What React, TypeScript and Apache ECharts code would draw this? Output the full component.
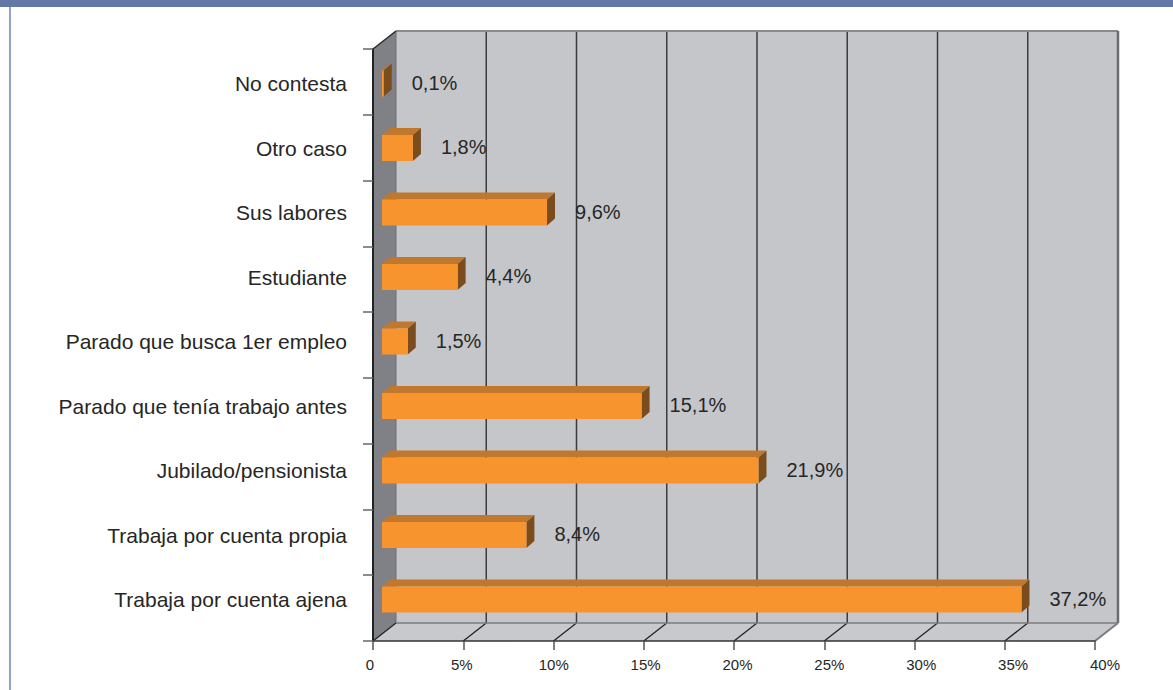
import React, { useEffect, useRef } from "react";
import * as echarts from "echarts";

// Categories bottom-to-top (ECharts category y axis starts at the bottom)
const categories = [
  "Trabaja por cuenta ajena",
  "Trabaja por cuenta propia",
  "Jubilado/pensionista",
  "Parado que tenía trabajo antes",
  "Parado que busca 1er empleo",
  "Estudiante",
  "Sus labores",
  "Otro caso",
  "No contesta",
];
const values = [37.2, 8.4, 21.9, 15.1, 1.5, 4.4, 9.6, 1.8, 0.1];
const xTicks = [0, 5, 10, 15, 20, 25, 30, 35, 40];
const axisMin = 0;
const axisMax = 40;
const axisStep = 5;
const barAxisMax = 42; // depth-perspective scale of the bars inside the 3D box

const FONT = "'Liberation Sans', Arial, Helvetica, sans-serif";
const TEXT = "#262626";
const fmtValue = (v: number) => v.toFixed(1).replace(".", ",") + "%";
const fmtTick = (v: number) => (v === 0 ? "0" : v + "%");

export default function App() {
  const ref = useRef<HTMLDivElement>(null);
  useEffect(() => {
    if (!ref.current) return;
    const chart = echarts.init(ref.current, undefined, { renderer: "svg" });
    const DX = 23;
    const DY = 18;

    const frameRender = (params: any, api: any) => {
      const cs = params.coordSys;
      const x0 = cs.x, y0 = cs.y, x1 = cs.x + cs.width, y1 = cs.y + cs.height;
      const children: any[] = [];
      children.push({
        type: "polygon",
        shape: { points: [[x0 + DX, y0 - DY], [x1 + DX, y0 - DY], [x1 + DX, y1 - DY], [x0 + DX, y1 - DY]] },
        style: { fill: "#c5c6ca" },
      });
      children.push({
        type: "polygon",
        shape: { points: [[x0, y1], [x0 + DX, y1 - DY], [x1 + DX, y1 - DY], [x1, y1]] },
        style: { fill: "#c8c9cc" },
      });
      children.push({
        type: "polygon",
        shape: { points: [[x0, y0], [x0 + DX, y0 - DY], [x0 + DX, y1 - DY], [x0, y1]] },
        style: { fill: "#808186" },
      });
      xTicks.forEach((t) => {
        const fx = api.coord([t, 0])[0];
        if (t !== axisMin && t !== axisMax) {
          children.push({
            type: "line",
            shape: { x1: fx + DX, y1: y0 - DY, x2: fx + DX, y2: y1 - DY },
            style: { stroke: "#3c3c3e", lineWidth: 1.5 },
          });
        }
        if (t !== axisMax) {
          children.push({
            type: "line",
            shape: { x1: fx, y1: y1, x2: fx + DX, y2: y1 - DY },
            style: { stroke: "#1e1e1e", lineWidth: 1.2 },
          });
        }
      });
      children.push({
        type: "line",
        shape: { x1: x0 + DX, y1: y0 - DY, x2: x1 + DX, y2: y0 - DY },
        style: { stroke: "#8a8b8e", lineWidth: 2 },
      });
      children.push({
        type: "line",
        shape: { x1: x1 + DX, y1: y0 - DY, x2: x1 + DX, y2: y1 - DY },
        style: { stroke: "#6a6b6e", lineWidth: 2.5 },
      });
      children.push({
        type: "line",
        shape: { x1: x0 + DX, y1: y0 - DY, x2: x0 + DX, y2: y1 - DY },
        style: { stroke: "#6e6f72", lineWidth: 1 },
      });
      children.push({
        type: "line",
        shape: { x1: x0 + DX, y1: y1 - DY, x2: x1 + DX, y2: y1 - DY },
        style: { stroke: "#7a7b7e", lineWidth: 1.5 },
      });
      children.push({
        type: "line",
        shape: { x1: x1, y1: y1, x2: x1 + DX, y2: y1 - DY },
        style: { stroke: "#7a7b7e", lineWidth: 2 },
      });
      children.push({
        type: "line",
        shape: { x1: x0, y1: y0, x2: x0 + DX, y2: y0 - DY },
        style: { stroke: "#2a2a2a", lineWidth: 1.5 },
      });
      return { type: "group", children };
    };

    const barRender = (params: any, api: any) => {
      const v = api.value(0);
      const i = api.value(1);
      const p0 = api.coord([0, i]);
      const p1 = api.coord([v, i]);
      const OX = 9, H = 26, BX = 8, BY = 7;
      const xs = p0[0] + OX;
      const xe = p1[0] + OX;
      const yc = p0[1];
      const yt = yc - H / 2;
      const yb = yc + H / 2;
      return {
        type: "group",
        children: [
          {
            type: "polygon",
            shape: { points: [[xs, yt], [xe, yt], [xe + BX, yt - BY], [xs + BX, yt - BY]] },
            style: { fill: "#c0782f" },
          },
          {
            type: "polygon",
            shape: { points: [[xe, yt], [xe + BX, yt - BY], [xe + BX, yb - BY], [xe, yb]] },
            style: { fill: "#7b4d1d" },
          },
          {
            type: "rect",
            shape: { x: xs, y: yt, width: Math.max(xe - xs, 0.5), height: H },
            style: { fill: "#f7942d" },
          },
          {
            type: "text",
            x: xe + 28,
            y: yc - 1,
            style: {
              text: fmtValue(v),
              fontSize: 20,
              fontFamily: FONT,
              fill: TEXT,
              align: "left",
              verticalAlign: "middle",
            },
          },
        ],
      };
    };

    chart.setOption({
      animation: false,
      backgroundColor: "#ffffff",
      graphic: [
        { type: "rect", shape: { x: 0, y: 0, width: 1173, height: 7 }, style: { fill: "#6478a8" } },
        { type: "rect", shape: { x: 9, y: 7, width: 2, height: 683 }, style: { fill: "#93a2cc" } },
      ],
      grid: [
        // 0: the 3D box front plane (axes, ticks, walls)
        { left: 373, top: 49, width: 722, height: 592, containLabel: false },
        // 1: the bars and category labels, set at mid-depth of the box
        { left: 373, top: 51.25, width: 722, height: 580.5, containLabel: false },
        // 2: the value tick labels as Excel lays them out under the slanted floor
        { left: 370, top: 49, width: 735, height: 592, containLabel: false },
      ],
      xAxis: [
        {
          type: "value",
          gridIndex: 0,
          min: axisMin,
          max: axisMax,
          interval: axisStep,
          axisLine: { show: true, lineStyle: { color: "#333333", width: 1.5 } },
          axisTick: { show: true, length: 9, lineStyle: { color: "#555555", width: 1.5 } },
          axisLabel: { show: false },
          splitLine: { show: false },
        },
        {
          type: "value",
          gridIndex: 1,
          min: axisMin,
          max: barAxisMax,
          show: false,
          splitLine: { show: false },
        },
        {
          type: "value",
          gridIndex: 2,
          min: axisMin,
          max: axisMax,
          interval: axisStep,
          axisLine: { show: false },
          axisTick: { show: false },
          axisLabel: {
            formatter: fmtTick,
            fontSize: 15,
            color: TEXT,
            fontFamily: FONT,
            margin: 16,
          },
          splitLine: { show: false },
        },
      ],
      yAxis: [
        {
          type: "category",
          gridIndex: 0,
          data: categories,
          axisLine: { show: true, lineStyle: { color: "#222222", width: 2 } },
          axisTick: { show: true, length: 10, lineStyle: { color: "#666666", width: 1.5 } },
          axisLabel: { show: false },
          splitLine: { show: false },
        },
        {
          type: "category",
          gridIndex: 1,
          data: categories,
          axisLine: { show: false },
          axisTick: { show: false },
          axisLabel: { fontSize: 21, color: TEXT, fontFamily: FONT, margin: 26 },
          splitLine: { show: false },
        },
        {
          type: "value",
          gridIndex: 2,
          show: false,
          splitLine: { show: false },
        },
      ],
      series: [
        {
          type: "custom",
          silent: true,
          xAxisIndex: 0,
          yAxisIndex: 0,
          z: 0,
          renderItem: frameRender,
          data: [[0, 0]],
          encode: { x: 0, y: 1 },
        },
        {
          type: "custom",
          xAxisIndex: 1,
          yAxisIndex: 1,
          z: 3,
          renderItem: barRender,
          data: values.map((v, i) => [v, i]),
          encode: { x: 0, y: 1 },
        },
      ],
    });
    return () => chart.dispose();
  }, []);
  return (
    <div
      ref={ref}
      style={{ position: "fixed", left: 0, top: 0, width: 1173, height: 690 }}
    />
  );
}
